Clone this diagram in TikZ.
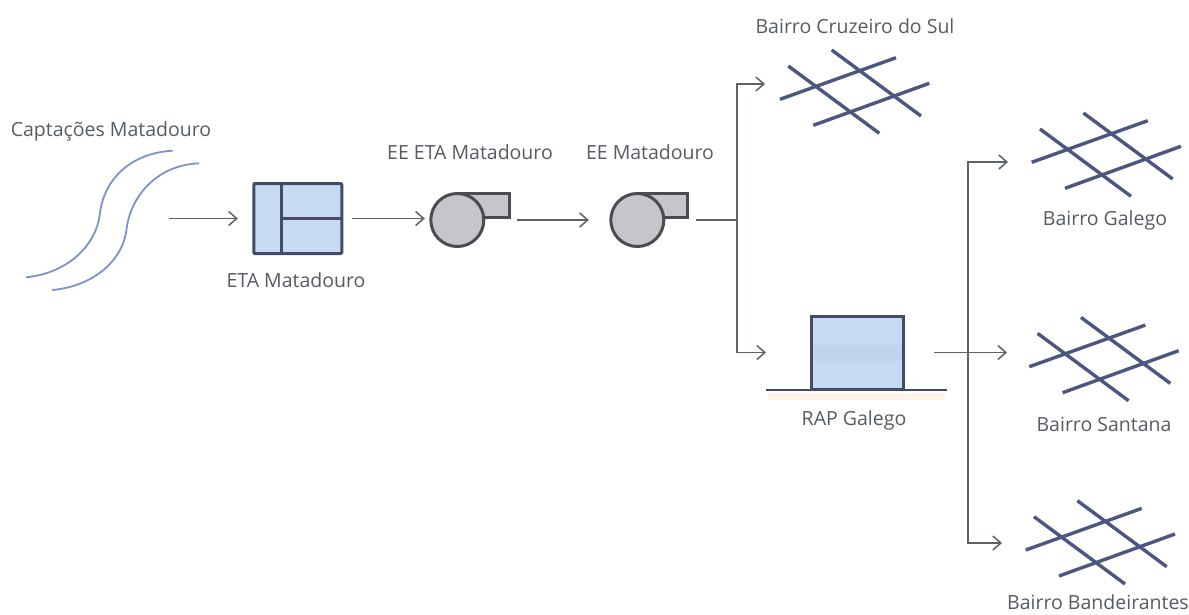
\documentclass[tikz,border=0pt]{standalone}
\usepackage{fontspec}
\setmainfont{Open Sans}
\usetikzlibrary{arrows.meta}
\definecolor{txt}{HTML}{565C64}
\definecolor{conn}{HTML}{5C6268}
\definecolor{gridc}{HTML}{4C5680}
\definecolor{riverc}{HTML}{7C92C8}
\definecolor{bluef}{HTML}{C6DAF3}
\definecolor{bandf}{HTML}{BDD0EA}
\definecolor{edgec}{HTML}{444B66}
\definecolor{pumpf}{HTML}{C4C6CC}
\definecolor{pumpe}{HTML}{4A4C50}
\tikzset{
  x=1pt,y=-1pt,
  lbl/.style={font=\fontsize{19.5}{22}\selectfont,text=txt,inner sep=0pt},
  flow/.style={draw=conn,line width=1.5pt,-{Straight Barb[length=8pt,width=14pt,line width=1.5pt]}},
  flowplain/.style={draw=conn,line width=1.5pt},
  tank/.style={draw=edgec,line width=3pt,fill=bluef,inner sep=0pt,outer sep=0pt,rounded corners=1pt},
  pumpbody/.style={circle,draw=pumpe,line width=3pt,fill=pumpf,minimum size=53pt,inner sep=0pt,outer sep=0pt},
  pumpout/.style={draw=pumpe,line width=3pt,fill=pumpf,inner sep=0pt,outer sep=0pt,anchor=south west,minimum width=52pt,minimum height=24pt},
  streetl/.style={draw=gridc,line width=3.4pt},
  river/.style={draw=riverc,line width=1.8pt}
}
\newcommand{\streetgrid}[2]{%
  \begin{scope}[shift={(#1,#2)}]
    \draw[streetl] (0,0) -- (116,-41.6);
    \draw[streetl] (33.3,26) -- (149.3,-16);
    \draw[streetl] (8.3,-33.3) -- (99.3,34);
    \draw[streetl] (51.7,-49.3) -- (141,16.7);
  \end{scope}}
\begin{document}
\begin{tikzpicture}
\useasboundingbox (0,0) rectangle (1189,614);
\fill[white] (0,0) rectangle (1189,614);
% river
\draw[river] (26,277.3) .. controls (70,273) and (97,243) .. (100,213) .. controls (104,180) and (130,153) .. (172.7,150.7);
\draw[river] (52.3,290) .. controls (96,286) and (124,258) .. (126.7,228) .. controls (131,196) and (157,165) .. (199,163.3);
\coordinate (rivr) at (169,218.5);
% ETA
\node[tank,minimum width=88pt,minimum height=70pt] (eta) at (297.8,218.5) {};
\draw[edgec,line width=3pt] (281,183.5) -- (281,253.5);
\draw[edgec,line width=3pt] (281,218.5) -- (eta.east);
% pumps
\node[pumpout] (out1) at (457.3,217.3) {};
\node[pumpbody] (pump1) at (457.3,220) {};
\node[pumpout,minimum width=50pt] (out2) at (637.3,217.3) {};
\node[pumpbody] (pump2) at (637.3,220) {};
% reservoir
\fill[orange!20!white,opacity=.35] (768,393) rectangle (946,400);
\fill[bluef] (811,316) rectangle (903,389);
\fill[bandf,opacity=.6] (811,345) rectangle (903,361);
\node[draw=edgec,line width=3pt,inner sep=0pt,outer sep=0pt,minimum width=92pt,minimum height=73pt] (rap) at (857,352.5) {};
\coordinate (gl) at (765.7,390);
\coordinate (gr) at (947.3,390);
\draw[draw=edgec,line width=1.6pt] (gl) -- (gr);
% street grids
\streetgrid{780}{99.3}
\streetgrid{1031.7}{162.3}
\streetgrid{1029.3}{366.7}
\streetgrid{1025.7}{550}
\coordinate (cruz) at (765,84);
\coordinate (gale) at (1008,162);
\coordinate (sant) at (1007,352.5);
\coordinate (band) at (1002,543);
\coordinate (j1) at (737,220);
\coordinate (j2) at (968,352.5);
% connectors
\draw[flow] (rivr) -- ([xshift=-16pt]eta.west);
\draw[flow,shorten <=10pt,shorten >=6pt] (eta.east) -- (eta.east -| pump1.west);
\draw[flow,shorten <=8pt,shorten >=22pt] (out1.east |- pump1.east) -- (pump2.west);
\draw[flowplain,shorten <=9pt] (out2.east |- pump2.east) -- (j1);
\draw[flow] (j1) |- (cruz);
\draw[flow,shorten >=45pt] (j1) |- (rap.west);
\draw[flow,shorten <=31pt] (rap.east) -- (sant);
\draw[flow] (j2) |- (gale);
\draw[flow] (j2) |- (band);
% labels
\node[lbl] (lcap) at (111,131) {Captações Matadouro};
\node[lbl] (leta) at (296,280) {ETA Matadouro};
\node[lbl] (lee1) at (470,152) {EE ETA Matadouro};
\node[lbl] (lee2) at (650,152) {EE Matadouro};
\node[lbl] (lcruz) at (855,26) {Bairro Cruzeiro do Sul};
\node[lbl] (lgal) at (1105,220) {Bairro Galego};
\node[lbl] (lrap) at (854,420) {RAP Galego};
\node[lbl] (lsan) at (1104,424) {Bairro Santana};
\node[lbl] (lban) at (1098,602) {Bairro Bandeirantes};
\end{tikzpicture}
\end{document}
